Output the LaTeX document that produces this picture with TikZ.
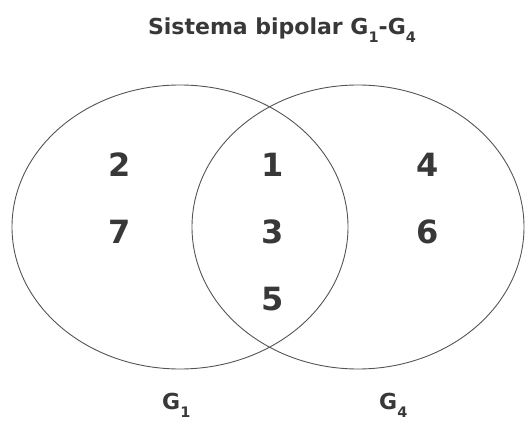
\documentclass[tikz,border=0pt]{standalone}
\usepackage{fontspec}
\setmainfont{DejaVu Sans}
\definecolor{ink}{HTML}{383838}
\definecolor{rim}{HTML}{555555}
% index set well below the baseline
\newcommand\lowidx[2][-8pt]{\raisebox{#1}{\fontsize{14.5}{14.5}\selectfont #2}}
\begin{document}
\begin{tikzpicture}[x=1pt,y=-1pt,
  setrim/.style={draw=rim,line width=0.9pt},
  elem/.style={text=ink,font=\bfseries\fontsize{32}{32}\selectfont,inner sep=0pt},
  caption/.style={text=ink,font=\bfseries\fontsize{22}{22}\selectfont,inner sep=0pt}]
\useasboundingbox (0,0) rectangle (527,422);
% the two sets
\draw[setrim] (180,227) ellipse [x radius=168, y radius=142];
\draw[setrim] (358,227) ellipse [x radius=166, y radius=142];
% title
\node[caption,anchor=base] (title) at (282,35) {Sistema bipolar G\lowidx{1}-G\lowidx{4}};
% elements
\node[elem] (n2) at (120,164.5) {2};
\node[elem] (n7) at (120,231.5) {7};
\node[elem] (n1) at (273,164.5) {1};
\node[elem] (n3) at (273,231.5) {3};
\node[elem] (n5) at (273,299) {5};
\node[elem] (n4) at (428,164.5) {4};
\node[elem] (n6) at (428,231.5) {6};
% set labels
\node[caption,anchor=base west] (g1) at (162,409) {G\lowidx{1}};
\node[caption,anchor=base west] (g4) at (379,409) {G\lowidx{4}};
\end{tikzpicture}
\end{document}
